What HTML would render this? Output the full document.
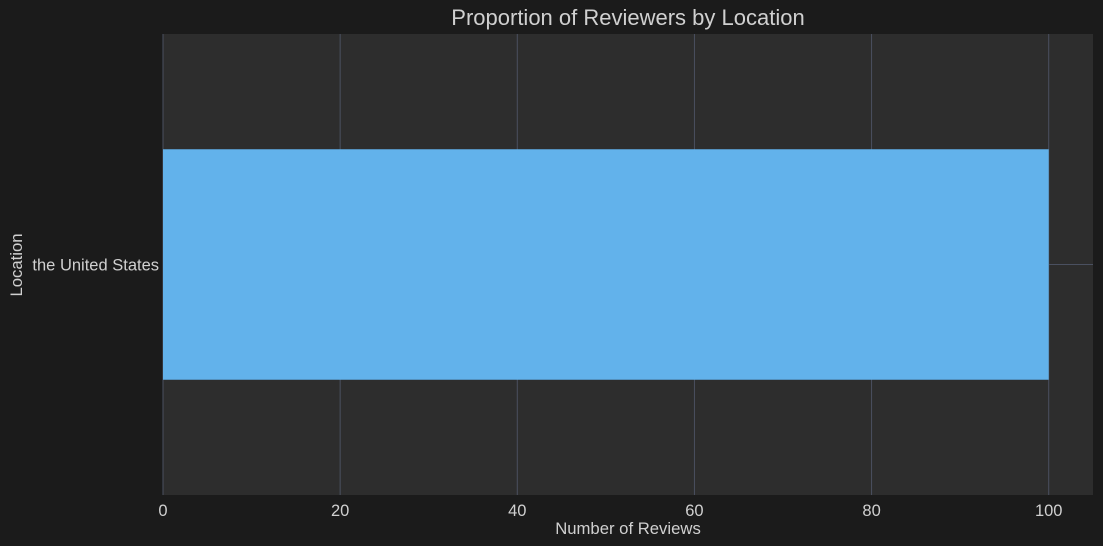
<!DOCTYPE html>
<html><head><meta charset="utf-8"><style>
body{margin:0;background:#1b1b1b;}
svg{display:block;font-family:"Liberation Sans",sans-serif;}
</style></head><body>
<svg id="chart" width="1103" height="546">
<rect width="1103" height="546" fill="#1b1b1b"/>
<rect x="163" y="34" width="930" height="461" fill="#2d2d2d"/>
<text x="628" y="25" text-anchor="middle" font-size="22" fill="#d0d0d0">Proportion of Reviewers by Location</text>
<text x="628" y="534" text-anchor="middle" font-size="16.7" fill="#d0d0d0">Number of Reviews</text>
<text x="22" y="265" text-anchor="middle" font-size="16.7" fill="#d0d0d0" transform="rotate(-90 22 265)">Location</text>
<g id="grid"></g><g id="bars"></g><g id="ticks"></g>
</svg>
<script>
const categories = ["the United States"];
const values = [100];
const xTicks = [0, 20, 40, 60, 80, 100];
const xMax = 105;
const L=163, R=1093, T=34, B=495;
const xs = v => L + v/xMax*(R-L);
const band = (B-T)/categories.length;
const yc = i => T + band*(i+0.5);
const NS="http://www.w3.org/2000/svg";
function mk(tag, attrs, parent){const e=document.createElementNS(NS,tag);for(const k in attrs)e.setAttribute(k,attrs[k]);document.getElementById(parent).appendChild(e);return e;}
xTicks.forEach(t=>{
  const g=mk('line',{x1:xs(t),x2:xs(t),y1:T,y2:B,stroke:'#4a5060','stroke-width':1},'grid');
  
  
  const tx=mk('text',{x:xs(t),y:B+21,'text-anchor':'middle','font-size':16.5,fill:'#d0d0d0'},'ticks');
  tx.textContent=t;
  
  
});
categories.forEach((c,i)=>{
  const gl=mk('line',{x1:L,x2:R,y1:yc(i),y2:yc(i),stroke:'#4a5060','stroke-width':1},'grid');
  
  
  const h=band*0.5;
  const b=mk('rect',{x:L,y:yc(i)-h/2,width:xs(values[i])-L,height:h,fill:'#62b2eb'},'bars');
  
  
  const tx=mk('text',{x:L-4,y:yc(i)+6,'text-anchor':'end','font-size':16.5,fill:'#d0d0d0'},'ticks');
  tx.textContent=c;
  
  
});
</script>
</body></html>
